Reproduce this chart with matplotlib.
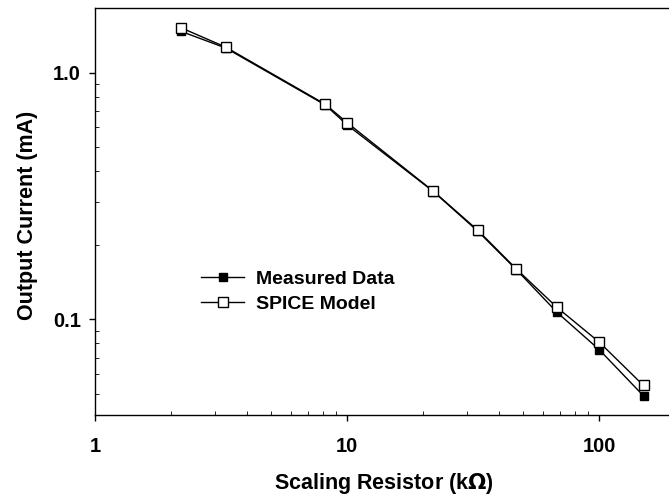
import matplotlib.pyplot as plt
from matplotlib.ticker import FixedLocator, FixedFormatter, LogLocator, NullFormatter

plt.rcParams['font.family'] = ['Liberation Sans', 'DejaVu Sans']
plt.rcParams['font.weight'] = 'bold'

resistor_k = [2.2, 3.3, 8.2, 10, 22, 33, 47, 68, 100, 150]
measured_ma = [1.47, 1.26, 0.74, 0.615, 0.33, 0.228, 0.159, 0.107, 0.0755, 0.049]
spice_ma = [1.52, 1.27, 0.745, 0.628, 0.331, 0.23, 0.16, 0.112, 0.081, 0.054]

fig = plt.figure(figsize=(6.69, 4.96), dpi=100)
ax = fig.add_axes([95 / 669, (496 - 415) / 496, 580 / 669, 407 / 496])

ax.plot(resistor_k, measured_ma, color='black', lw=1.0, marker='s', ms=6,
        mfc='black', mec='black', label='Measured Data', zorder=3)
ax.plot(resistor_k, spice_ma, color='black', lw=1.0, marker='s', ms=7,
        mfc='white', mec='black', mew=1.0, label='SPICE Model', zorder=4)

ax.set_xscale('log')
ax.set_yscale('log')
ax.set_xlim(1, 200)
ax.set_ylim(0.041, 1.83)

ax.xaxis.set_major_locator(FixedLocator([1, 10, 100]))
ax.xaxis.set_major_formatter(FixedFormatter(['1', '10', '100']))
ax.xaxis.set_minor_locator(LogLocator(base=10, subs=range(2, 10)))
ax.xaxis.set_minor_formatter(NullFormatter())
ax.yaxis.set_major_locator(FixedLocator([0.1, 1.0]))
ax.yaxis.set_major_formatter(FixedFormatter(['0.1', '1.0']))
ax.yaxis.set_minor_locator(LogLocator(base=10, subs=range(2, 10)))
ax.yaxis.set_minor_formatter(NullFormatter())

ax.tick_params(which='major', direction='out', length=4, width=1, labelsize=14.5)
ax.tick_params(axis='x', which='major', pad=12)
ax.tick_params(axis='y', which='major', pad=6)
ax.tick_params(which='minor', direction='in', length=3, width=0.6)
for s in ax.spines.values():
    s.set_linewidth(1.0)

# axis labels placed by pixel position, as in the reference
ax.set_xlabel('Scaling Resistor (k$\\Omega$)', fontsize=15.5, fontweight='bold')
ax.xaxis.set_label_coords((384 - 95) / 580, -(484 - 415) / 407)
ax.xaxis.label.set_va('center')
ax.set_ylabel('Output Current (mA)', fontsize=15.5, fontweight='bold')
ax.yaxis.set_label_coords(-(95 - 28) / 580, (415 - 215) / 407)
ax.yaxis.label.set_va('center')

ax.legend(loc='upper left', bbox_to_anchor=(0.17, 0.375), frameon=False,
          fontsize=14, handlelength=2.2, handletextpad=0.6, labelspacing=0.4,
          borderaxespad=0)

fig.savefig('out.png', dpi=100)
